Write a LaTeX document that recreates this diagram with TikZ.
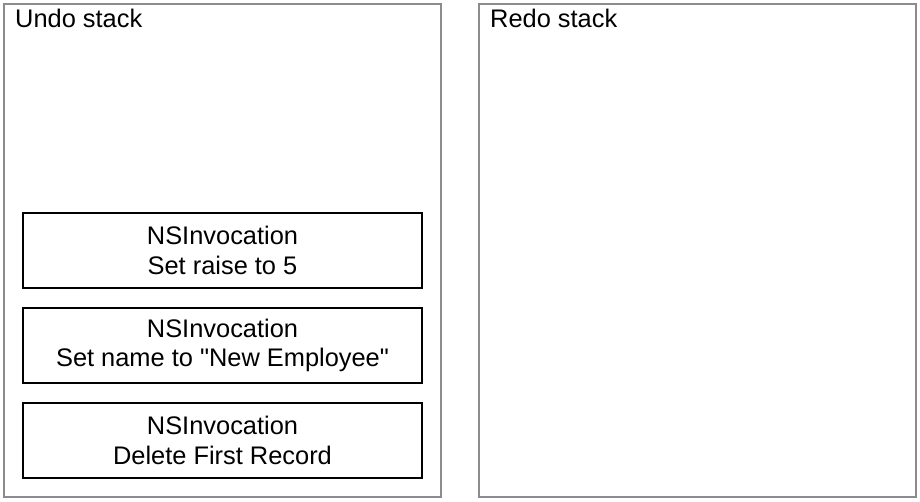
\documentclass[tikz,border=0pt]{standalone}
\usepackage{fontspec}
\setmainfont{Liberation Sans}[Ligatures=TeXOff]
\begin{document}
\begin{tikzpicture}[x=1bp,y=-1bp,
  stackbox/.style={draw=black!45,line width=1.5bp,inner sep=0pt},
  invbox/.style={draw=black,line width=1.8bp,minimum width=399bp,minimum height=75bp,inner sep=0pt,align=center,font=\fontsize{25.4bp}{29.5bp}\selectfont},
  title/.style={anchor=north west,inner sep=0pt,font=\fontsize{25.4bp}{29.5bp}\selectfont}]
\useasboundingbox (0,0) rectangle (920,502);
\draw[stackbox] (4,4) rectangle (441,497);
\draw[stackbox] (479,4) rectangle (916,497);
\node[title] (undo) at (15,9) {Undo stack};
\node[title] (redo) at (490,9) {Redo stack};
\node[invbox] (i1) at (222.5,250.5) {NSInvocation\\Set raise to 5};
\node[invbox] (i2) at (222.5,345.5) {NSInvocation\\Set name to "New Employee"};
\node[invbox] (i3) at (222.5,440.5) {NSInvocation\\Delete First Record};
\end{tikzpicture}
\end{document}
